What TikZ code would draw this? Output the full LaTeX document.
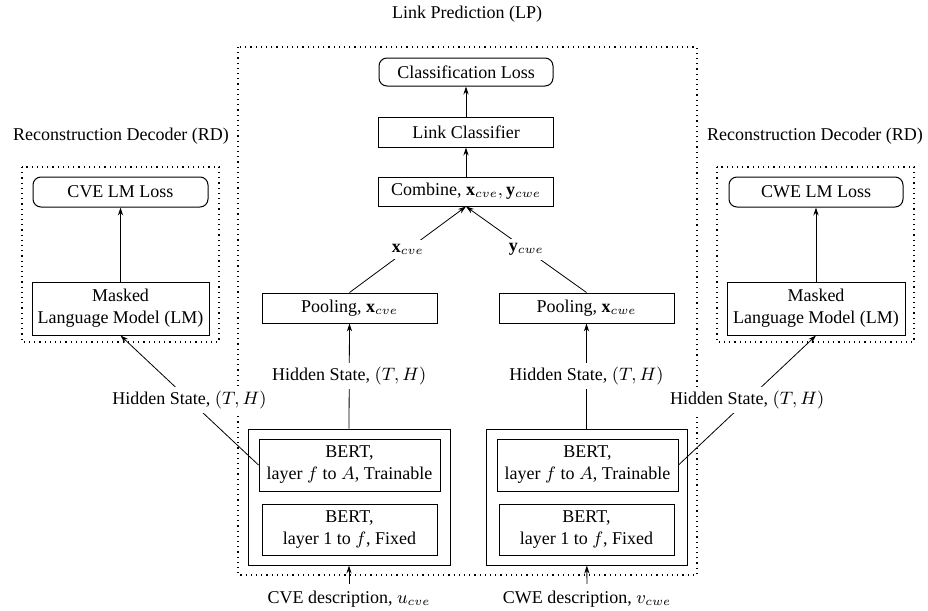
\documentclass[tikz,border=0pt]{standalone}
\usepackage{amsmath,amssymb}
\usepackage{fontspec}
\setmainfont{Liberation Serif}
\usetikzlibrary{arrows.meta, calc, positioning}

\tikzset{
  blk/.style={draw, line width=0.5pt, align=center, inner sep=1pt},
  lossbox/.style={blk, rounded corners=4pt},
  lbl/.style={fill=white, inner sep=2pt},
  grp/.style={draw, dotted, line width=0.6pt},
}

\begin{document}
\begin{tikzpicture}[x=0.5pt, y=-0.5pt, >={Stealth[length=4pt,width=2.6pt]},
                    font=\fontsize{9}{11}\selectfont]
					\useasboundingbox (0,0) rectangle (928,611);

					% group frames
					\draw[grp] (238,47) rectangle (697,575);
					\draw[grp] (22,167) rectangle (219,342);
					\draw[grp] (717,167) rectangle (914,342);

					\node (lp) at (467,14) {Link Prediction (LP)};
					\node (rdL) at (121,136) {Reconstruction Decoder (RD)};
					\node (rdR) at (815,136) {Reconstruction Decoder (RD)};

					% link prediction head
					\node[lossbox, minimum width=87pt, minimum height=14pt] (clsloss) at (466,72) {Classification Loss};
					\node[blk, minimum width=87.5pt, minimum height=15pt] (linkcls) at (466,132) {Link Classifier};
					\node[blk, minimum width=87.5pt, minimum height=14.5pt] (combine) at (466,191.5) {Combine, $\mathbf{x}_{cve}, \mathbf{y}_{cwe}$};

					\node[blk, minimum width=87.5pt, minimum height=15pt] (poolL) at (349.5,308) {Pooling, $\mathbf{x}_{cve}$};
					\node[blk, minimum width=87.5pt, minimum height=15pt] (poolR) at (586.5,308) {Pooling, $\mathbf{x}_{cwe}$};

					% encoders
					\node[blk, minimum width=101pt, minimum height=68pt] (bertL) at (349,497) {};
					\node[blk, minimum width=90.5pt, minimum height=26pt] (trainL) at (349.5,465) {BERT,\\layer $f$ to $A$, Trainable};
					\node[blk, minimum width=87.5pt, minimum height=25.5pt] (fixedL) at (349.5,529.5) {BERT,\\layer 1 to $f$, Fixed};

					\node[blk, minimum width=100.5pt, minimum height=68pt] (bertR) at (586.5,497) {};
					\node[blk, minimum width=90.5pt, minimum height=26pt] (trainR) at (587.5,465) {BERT,\\layer $f$ to $A$, Trainable};
					\node[blk, minimum width=87.5pt, minimum height=25.5pt] (fixedR) at (586.5,529.5) {BERT,\\layer 1 to $f$, Fixed};

					\node (descL) at (349,599) {CVE description, $u_{cve}$};
					\node (descR) at (587,599) {CWE description, $v_{cwe}$};

					% reconstruction decoders
					\node[lossbox, minimum width=87.5pt, minimum height=15pt] (lossL) at (120.5,192) {CVE LM Loss};
					\node[blk, minimum width=88.5pt, minimum height=26.5pt] (mlmL) at (120.5,308.5) {Masked\\Language Model (LM)};

					\node[lossbox, minimum width=87pt, minimum height=15pt] (lossR) at (816,192) {CWE LM Loss};
					\node[blk, minimum width=89pt, minimum height=26.5pt] (mlmR) at (816,308.5) {Masked\\Language Model (LM)};

					% connectors
					\draw[->] (descL) -- (bertL);
					\draw[->] (descR) -- (bertR);
					\draw[->] (bertL.north) -- node[lbl] {Hidden State, $(T,H)$} (poolL.south);
					\draw[->] (bertR.north) -- node[lbl] {Hidden State, $(T,H)$} (poolR.south);
					\draw[->] (poolL.north) -- node[lbl] {$\mathbf{x}_{cve}$} (combine.south);
					\draw[->] (poolR.north) -- node[lbl] {$\mathbf{y}_{cwe}$} (combine.south);
					\draw[->] (combine) -- (linkcls);
					\draw[->] (linkcls) -- (clsloss);

					\draw[->] (trainL.west) -- node[lbl] {Hidden State, $(T,H)$} (mlmL.south);
					\draw[->] (trainR.east) -- node[lbl] {Hidden State, $(T,H)$} (mlmR.south);
					\draw[->] (mlmL) -- (lossL);
					\draw[->] (mlmR) -- (lossR);
\end{tikzpicture}
\end{document}
